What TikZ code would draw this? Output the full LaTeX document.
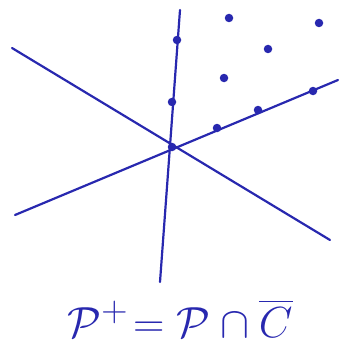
\documentclass[tikz,border=0pt]{standalone}
\usepackage{amsmath}
\definecolor{ink}{RGB}{40,40,175}
\begin{document}
\begin{tikzpicture}[x=1pt,y=-1pt,
  stroke/.style={draw=ink,line width=2.2pt,line cap=round},
  dot/.style={circle,fill=ink,inner sep=0pt,minimum size=8.5pt}]
\useasboundingbox (0,0) rectangle (340,353);
\coordinate (vt) at (180,10);
\coordinate (vb) at (160,282);
\coordinate (a1) at (12,48);
\coordinate (a2) at (330,240);
\coordinate (b1) at (15,215);
\coordinate (b2) at (338,80);
\draw[stroke] (vt) -- (vb);
\draw[stroke] (a1) -- (a2);
\draw[stroke] (b1) -- (b2);
\node[dot] (o) at (172,147) {};
\node[dot] (v1) at (177,40) {};
\node[dot] (v2) at (172,102) {};
\node[dot] (r1) at (217,128) {};
\node[dot] (r2) at (258,110) {};
\node[dot] (r3) at (313,91) {};
\node[dot] (s1) at (229,18) {};
\node[dot] (s2) at (319,23) {};
\node[dot] (s3) at (268,49) {};
\node[dot] (s4) at (224,78) {};
\node[text=ink] (eq) at (180,318) {\scalebox{1.75}{\Huge $\mathcal{P}^{+}\!=\mathcal{P}\cap\overline{C}$}};
\end{tikzpicture}
\end{document}
